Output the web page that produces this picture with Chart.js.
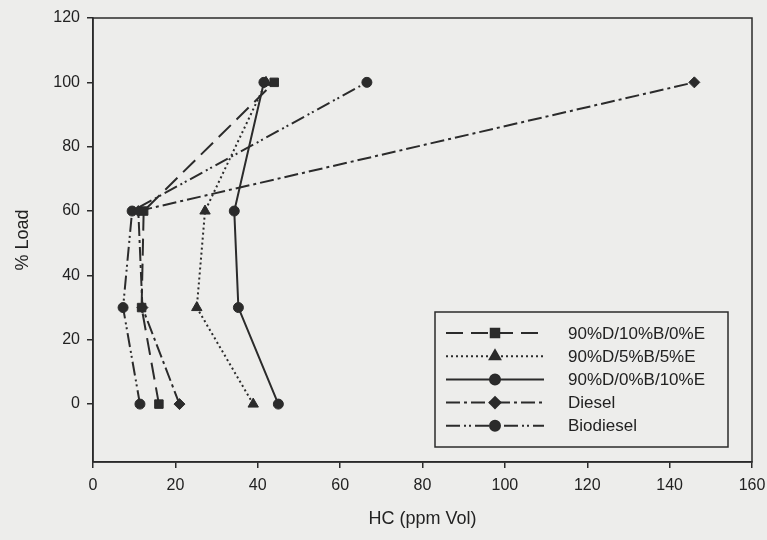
<!DOCTYPE html>
<html>
<head>
<meta charset="utf-8">
<script src="https://cdn.jsdelivr.net/npm/chart.js@4"></script>
<style>
  html, body { margin: 0; padding: 0; background: #ededeb; }
  #hcChart { display: block; }
</style>
</head>
<body>
<canvas id="hcChart" width="767" height="540"></canvas>
<script>
// % load for every series
const loads = [0, 30, 60, 100];

// HC (ppm Vol)
const hc_10B_0E = [16, 11.8, 12.3, 44];
const hc_5B_5E = [38.9, 25.2, 27.2, 42];
const hc_0B_10E = [45, 35.3, 34.3, 41.5];
const hc_diesel = [21, 12, 11, 146];
const hc_biodiesel = [11.4, 7.3, 9.5, 66.5];

const seriesNames = ['90%D/10%B/0%E', '90%D/5%B/5%E', '90%D/0%B/10%E', 'Diesel', 'Biodiesel'];

const xTicks = [0, 20, 40, 60, 80, 100, 120, 140, 160];
const yTicks = [0, 20, 40, 60, 80, 100, 120];

const ink = '#2b2b2b';

function points(xs) {
    return xs.map((v, i) => ({ x: v, y: loads[i] }));
}

function series(label, xs, dash, marker, r) {
    return {
        label: label,
        data: points(xs),
        showLine: true,
        borderColor: ink,
        backgroundColor: ink,
        borderWidth: 2,
        borderDash: dash,
        pointStyle: marker,
        pointRadius: r,
        pointBorderWidth: 1,
        tension: 0
    };
}

const hcData = {
    datasets: [
        series(seriesNames[0], hc_10B_0E, [17, 8], 'rect', 6),
        series(seriesNames[1], hc_5B_5E, [2, 3], 'triangle', 6),
        series(seriesNames[2], hc_0B_10E, [], 'circle', 5),
        series(seriesNames[3], hc_diesel, [14, 4, 3, 4], 'rectRot', 5.5),
        series(seriesNames[4], hc_biodiesel, [14, 4, 2, 3, 2, 4], 'circle', 5)
    ]
};

// frame + legend box inside the plot
const boxLegend = {
    id: 'boxLegend',
    afterDatasetsDraw: (chart) => {
        const ctx = chart.ctx;
        const { top, left, right, bottom } = chart.chartArea;
        ctx.save();
        ctx.strokeStyle = ink;
        ctx.lineWidth = 1.5;
        ctx.setLineDash([]);
        ctx.strokeRect(left, top, right - left, bottom - top);

        const bx = 435, by = 312, bw = 293, bh = 135;
        ctx.fillStyle = '#ededeb';
        ctx.fillRect(bx, by, bw, bh);
        ctx.strokeRect(bx, by, bw, bh);

        ctx.font = '17px "Liberation Sans", Arial, sans-serif';
        ctx.textBaseline = 'middle';
        chart.data.datasets.forEach((ds, i) => {
            const yy = 333 + i * 23.2;
            ctx.strokeStyle = ink;
            ctx.lineWidth = 2;
            ctx.setLineDash(ds.borderDash);
            ctx.beginPath();
            ctx.moveTo(446, yy);
            ctx.lineTo(544, yy);
            ctx.stroke();
            ctx.setLineDash([]);
            Chart.helpers.drawPoint(ctx, {
                pointStyle: ds.pointStyle,
                radius: ds.pointRadius,
                borderWidth: 1
            }, 495, yy);
            ctx.fillStyle = ink;
            ctx.fill();
            ctx.fillStyle = '#222';
            ctx.fillText(ds.label, 568, yy + 1);
        });
        ctx.restore();
    }
};

new Chart(document.getElementById('hcChart'), {
    type: 'scatter',
    data: hcData,
    plugins: [boxLegend],
    options: {
        responsive: false,
        animation: false,
        layout: { padding: { top: 18, right: 15, left: 0, bottom: 0 } },
        plugins: {
            legend: { display: false },
            tooltip: { enabled: false }
        },
        scales: {
            x: {
                type: 'linear',
                min: 0,
                max: 160,
                afterBuildTicks: (axis) => { axis.ticks = xTicks.map(v => ({ value: v })); },
                afterFit: (axis) => { axis.height = 78; axis.paddingRight = 0; axis.paddingLeft = 0; },
                grid: { drawOnChartArea: false, drawTicks: true, tickLength: 6, color: ink, lineWidth: 1.5 },
                border: { color: ink, width: 1.5 },
                ticks: { color: '#222', padding: 8, font: { size: 16, family: '"Liberation Sans", Arial' }, maxRotation: 0 },
                title: {
                    display: true,
                    text: 'HC (ppm Vol)',
                    color: '#222',
                    padding: { top: 4, bottom: 10 },
                    font: { size: 18, family: '"Liberation Sans", Arial' }
                }
            },
            y: {
                type: 'linear',
                min: -18,
                max: 120,
                afterBuildTicks: (axis) => { axis.ticks = yTicks.map(v => ({ value: v })); },
                afterFit: (axis) => { axis.width = 93; axis.paddingTop = 0; axis.paddingBottom = 0; },
                grid: { drawOnChartArea: false, drawTicks: true, tickLength: 6, color: ink, lineWidth: 1.5 },
                border: { color: ink, width: 1.5 },
                ticks: { color: '#222', padding: 7, font: { size: 16, family: '"Liberation Sans", Arial' } },
                title: {
                    display: true,
                    text: '% Load',
                    color: '#222',
                    padding: { top: 12, bottom: 4 },
                    font: { size: 18, family: '"Liberation Sans", Arial' }
                }
            }
        }
    }
});
</script>
</body>
</html>
